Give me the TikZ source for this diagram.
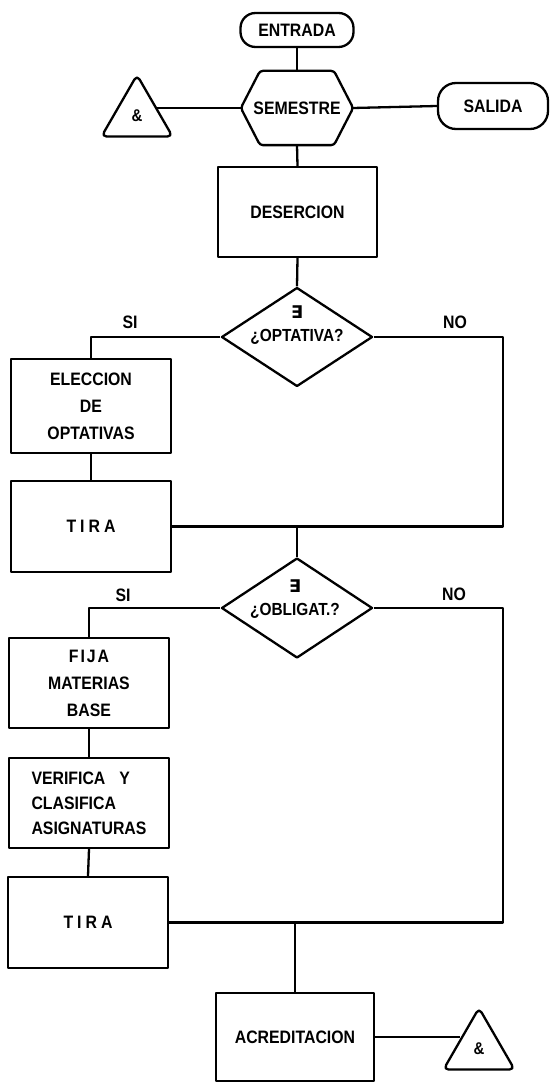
\documentclass[tikz,border=0pt]{standalone}
\usepackage{fontspec}
\setmainfont{Liberation Sans}[FakeStretch=0.88]
\newfontfamily\symfont{DejaVu Sans}
\usetikzlibrary{shapes.geometric,calc}
\begin{document}
\begin{tikzpicture}[x=1pt,y=-1pt,line width=2.3pt,line join=round,
  every node/.style={font=\bfseries\fontsize{18}{27}\selectfont},
  box/.style={draw,rectangle,minimum width=160pt,minimum height=91pt,inner sep=0pt,align=center},
  term/.style={draw,rectangle,rounded corners=15pt,inner sep=0pt},
  diam/.style={draw,diamond,minimum width=151pt,minimum height=99pt,inner sep=0pt},
  dtext/.style={align=center,inner sep=0pt,font=\bfseries\fontsize{17.5}{23}\selectfont},
  tri/.style={draw,regular polygon,regular polygon sides=3,minimum size=82pt,inner sep=0pt,rounded corners=5pt,font=\bfseries\fontsize{17}{17}\selectfont},
  lab/.style={inner sep=0pt}]
\useasboundingbox (0,0) rectangle (555,1083);

% top row
\node[term,minimum width=113pt,minimum height=34pt] (ent) at (297,30) {ENTRADA};
\node[minimum width=110pt,minimum height=72pt,inner sep=0pt] (sem) at (297,108) {SEMESTRE};
\draw[rounded corners=3pt] (sem.west) -- ($(sem.north)+(-37,0)$) -- ($(sem.north)+(37,0)$) -- (sem.east)
   -- ($(sem.south)+(37,0)$) -- ($(sem.south)+(-37,0)$) -- cycle;
\node[term,minimum width=110pt,minimum height=46pt,rounded corners=18pt] (sal) at (493,106) {SALIDA};
\node[tri] (tri1) at (137,116) {\&};
\coordinate (t1r) at ($(tri1.corner 1)!0.5!(tri1.corner 3)$);

\node[box,minimum width=159pt,minimum height=90pt] (des) at (297.5,212) {DESERCION};

% first decision
\node[diam] (q1) at (297,337) {};
\node[dtext] (q1t) at (297,325) {{\symfont ∃}\\¿OPTATIVA?};
\node[lab] (si1) at (130,322) {SI};
\node[lab] (no1) at (455,322) {NO};

\node[box,minimum height=94pt] (elec) at (91,406) {ELECCION\\DE\\OPTATIVAS};
\node[box] (tira1) at (91,526.5) {T\hspace{4pt}I\hspace{4pt}R\hspace{4pt}A};
\coordinate (r1) at (503,337);
\coordinate (j1) at (297,526.5);

% second decision
\node[diam,minimum height=100pt] (q2) at (297,608) {};
\node[dtext] (q2t) at (295,599) {{\symfont ∃}\\¿OBLIGAT.?};
\node[lab] (si2) at (123,595) {SI};
\node[lab] (no2) at (454,594) {NO};

\node[box,minimum height=90pt] (fija) at (89,683) {F\hspace{2pt}I\hspace{2pt}J\hspace{2pt}A\\MATERIAS\\BASE};
\node[box,minimum height=90pt,align=left,font=\bfseries\fontsize{18}{25}\selectfont] (ver) at (89,803)
  {VERIFICA\hspace{14pt}Y\\CLASIFICA\\ASIGNATURAS};
\node[box] (tira2) at (88,922.5) {T\hspace{4pt}I\hspace{4pt}R\hspace{4pt}A};
\coordinate (r2) at (503,608);
\coordinate (j2) at (295,922.5);

\node[box,minimum width=158pt,minimum height=88pt] (acr) at (295,1037) {ACREDITACION};
\node[tri] (tri2) at (479,1049) {\&};
\coordinate (t2l) at ($(tri2.corner 1)!0.5!(tri2.corner 2)$);

% connectors
\draw (ent.south) -- (sem.north);
\draw (sem.west) -- (sem.west -| t1r);
\draw (sem.east) -- (sal.west);
\draw (sem.south) -- (des.north);
\draw (des.south) -- (q1.north);
\draw (q1.west) -| (elec.north);
\draw (elec.south) -- (tira1.north);
\draw (q1.east) -- (r1) -- (r1 |- tira1.east) -- (tira1.east);
\draw (j1) -- (q2.north);
\draw (q2.west) -| (fija.north);
\draw (fija.south) -- (ver.north);
\draw (ver.south) -- (tira2.north);
\draw (q2.east) -- (r2) -- (r2 |- tira2.east) -- (tira2.east);
\draw (j2) -- (acr.north);
\draw (acr.east) -- (acr.east -| t2l);
\end{tikzpicture}
\end{document}
